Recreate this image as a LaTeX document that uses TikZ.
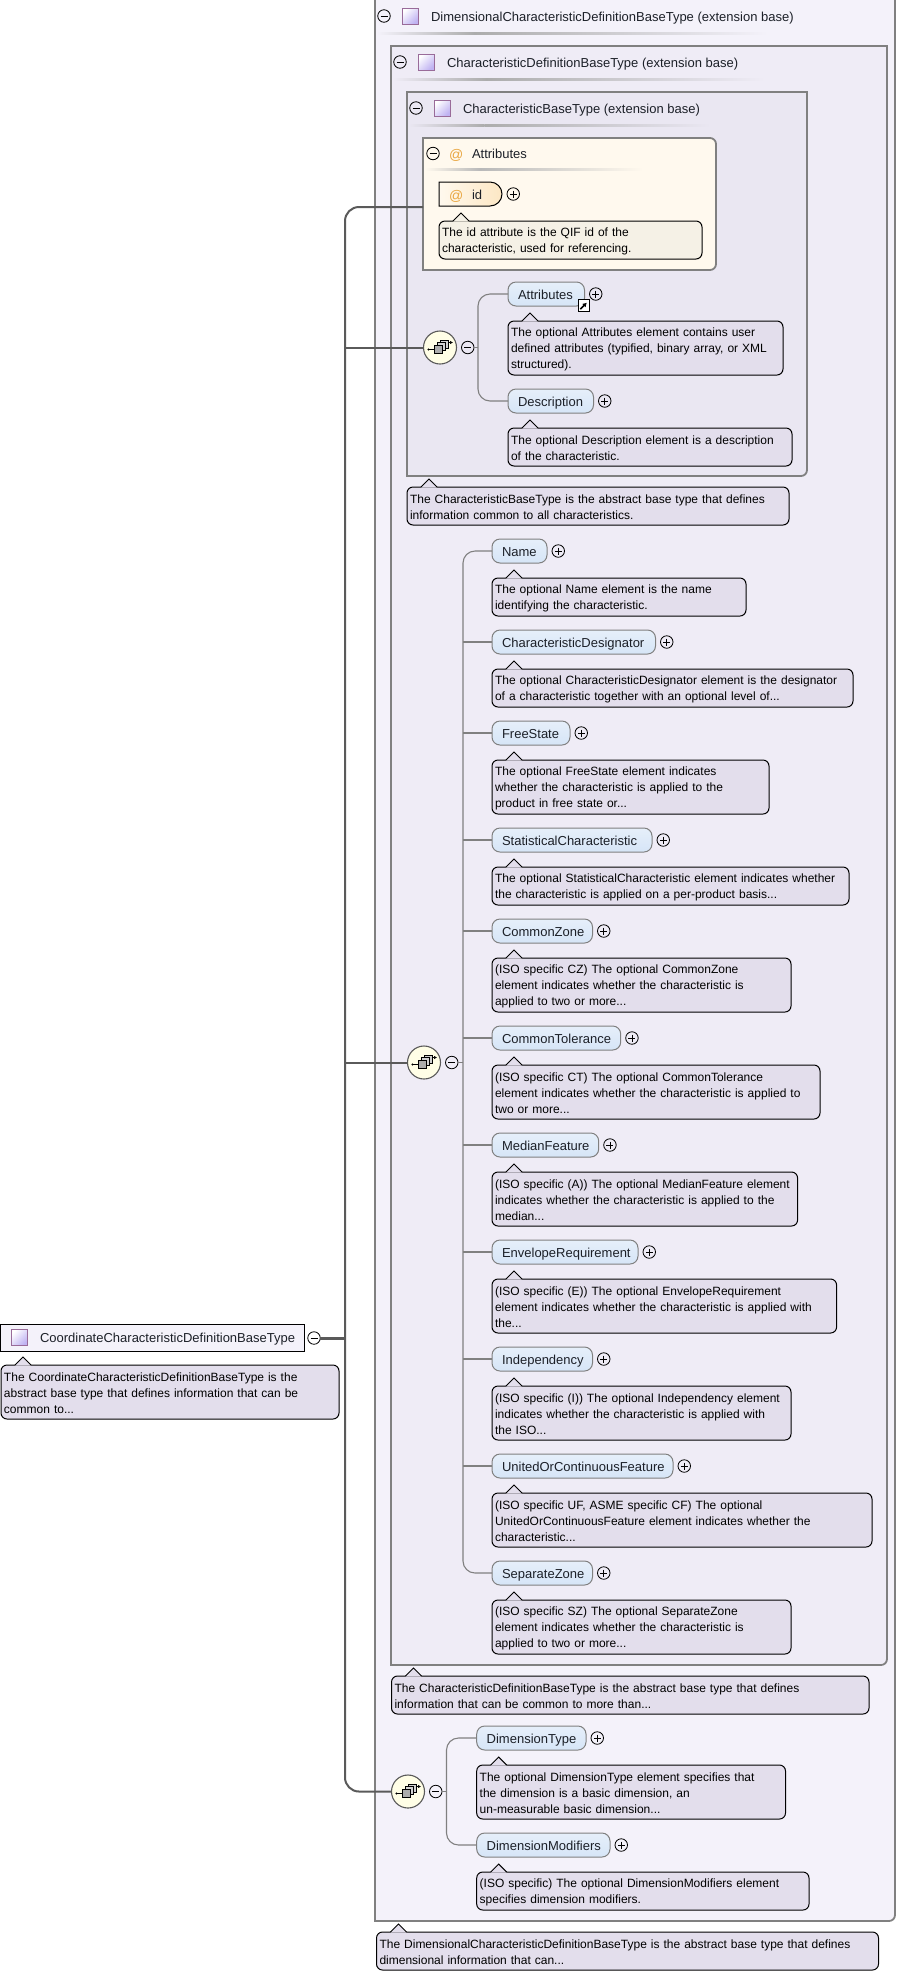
\documentclass[tikz,border=0pt]{standalone}
\usepackage{fontspec}
\setmainfont{Liberation Sans}
\usetikzlibrary{positioning,shapes.misc,arrows.meta}

\definecolor{boxA}{HTML}{F4F2FA}
\definecolor{boxB}{HTML}{EFECF6}
\definecolor{boxC}{HTML}{EAE7F2}
\definecolor{boxAttr}{HTML}{FFF9EE}
\definecolor{docfill}{HTML}{E3DEEC}
\definecolor{iddocfill}{HTML}{F5F1E6}
\definecolor{framegray}{HTML}{808080}
\definecolor{linkgray}{HTML}{5A5A5A}
\definecolor{atsign}{HTML}{E9A640}
\definecolor{inktext}{HTML}{1C2028}
\definecolor{elemtop}{HTML}{E6EFFA}
\definecolor{elembot}{HTML}{D6E5F7}
\definecolor{idright}{HTML}{FCE7C4}

\tikzset{
  base/.style={font=\fontsize{13}{16}\selectfont,text=inktext,inner sep=0pt,outer sep=0pt},
  lbl/.style={base,anchor=west,text height=12pt,text depth=2pt},
  elembox/.style={base,draw=framegray,line width=1pt,rounded corners=8pt,anchor=west,text height=12pt,text depth=2pt,
    minimum height=24pt,inner xsep=10pt,align=left,top color=elemtop,bottom color=elembot},
  docbox/.style={base,font=\fontsize{12}{16}\selectfont,draw=black,line width=1pt,rounded corners=6pt,anchor=north west,
    inner xsep=3pt,align=left,text=black,fill=docfill,execute at begin node={\rule{0pt}{11.6pt}}},
  idbox/.style={base,draw=black,line width=1pt,rounded rectangle,rounded rectangle west arc=none,
    minimum width=63pt,minimum height=24pt,anchor=west,left color=boxAttr,right color=idright},
  rootbox/.style={base,draw=black,line width=1pt,fill=boxA,minimum width=304pt,minimum height=27pt,anchor=west},
  typeicon/.style={base,draw=violet!45!gray!80,line width=.7pt,minimum size=16pt,
    left color=white,right color=violet!35!blue!30!white,shading angle=45},
  minusbtn/.style={base,circle,draw=black,line width=.8pt,minimum size=12.5pt,
    path picture={\draw[line width=.8pt] (path picture bounding box.center) ++(-3.5,0) -- ++(7,0);}},
  plusbtn/.style={minusbtn,
    path picture={\draw[line width=.8pt] (path picture bounding box.center) ++(-3.5,0) -- ++(7,0)
      (path picture bounding box.center) ++(0,-3.5) -- ++(0,7);}},
  choicebox/.style={base,circle,draw=linkgray,line width=1.1pt,fill=yellow!10!white,minimum size=33pt},
  typeframe/.style={draw=framegray,line width=1.8pt},
  branch/.style={draw=framegray,line width=1.1pt},
  mainlink/.style={draw=linkgray,line width=2pt},
  seqicon/.pic={
    \draw[line width=.8pt,fill=gray!35] (0,-7) rectangle (8,1);
    \draw[line width=.8pt,fill=gray!35] (-3,-5) rectangle (5,3);
    \draw[line width=.8pt,fill=gray!65] (-6,-2) rectangle (2,6);
    \draw[line width=1pt] (-12,2) -- (-6,2);
    \fill (-11.5,2) circle (1.2);
    \draw[line width=1pt,-{Latex[length=3pt,width=3.5pt]}] (8,-5) -- (13,-5);
  }
}

% element with its expand button
\newcommand{\elem}[5]{
  \node[elembox,text width=#4pt-20pt] (#1) at (#2,#3) {#5};
  \node[plusbtn,right=5pt of #1] (#1Plus) {};
}
% annotation box: name, x, top, width, lines, text
\newcommand{\docnote}[6]{
  \node[docbox,text width=#4pt-6pt,minimum height=#5*16pt+6pt] (#1) at (#2,#3) {#6};
  \fill[docfill] (#1.north west) ++(14,.7) -- ++(8,-8.7) -- ++(8,8.7) -- cycle;
  \draw[line width=1pt] (#1.north west) ++(14,0) -- ++(8,-8) -- ++(8,8);
}
% header of an extension block: name, x of button, y, text, end of rule, colour
\newcommand{\typehead}[6]{
  \node[minusbtn] (#1Minus) at (#2,#3) {};
  \node[typeicon,right=11.75pt of #1Minus] (#1Icon) {};
  \node[lbl,right=13pt of #1Icon] (#1Text) {#4};
  \pgfmathsetmacro{\ruleL}{#2-7}
  \pgfmathsetmacro{\ruleM}{#2-7+(#5-#2+7)*.25}
  \shade[left color=#6,right color=gray!65] (\ruleL,#3+16) rectangle (\ruleM,#3+18);
  \shade[left color=gray!65,right color=#6] (\ruleM,#3+16) rectangle (#5,#3+18);
}

\begin{document}
\begin{tikzpicture}[x=1pt,y=-1pt]
  \useasboundingbox (0,0) rectangle (897,1974);

  % nested extension blocks
  \filldraw[typeframe,fill=boxA] (375,-2) -- (895,-2) [rounded corners=6pt] -- (895,1921) [sharp corners] -- (375,1921) -- cycle;
  \filldraw[typeframe,fill=boxB] (391,46) -- (887,46) [rounded corners=6pt] -- (887,1665) [sharp corners] -- (391,1665) -- cycle;
  \filldraw[typeframe,fill=boxC] (407,92) -- (807,92) [rounded corners=6pt] -- (807,476) [sharp corners] -- (407,476) -- cycle;
  \filldraw[typeframe,fill=boxAttr] (423,138) [rounded corners=6pt] -- (716,138) -- (716,270) [sharp corners] -- (423,270) -- cycle;
  \coordinate (attrEdge) at (423,207);

  \typehead{dimType}{384}{16}{DimensionalCharacteristicDefinitionBaseType (extension base)}{768}{boxA}
  \typehead{defType}{400}{62}{CharacteristicDefinitionBaseType (extension base)}{765}{boxB}
  \typehead{baseType}{416}{108}{CharacteristicBaseType (extension base)}{710}{boxC}

  % attribute group
  \node[minusbtn] (attrMinus) at (433,153.5) {};
  \node[lbl,text=atsign,font=\fontsize{14}{16}\selectfont] (attrAt) at (449,154) {@};
  \node[lbl] (attrText) at (472,153) {Attributes};
  \shade[left color=boxAttr,right color=gray!55] (425,168) rectangle (480,170);
  \shade[left color=gray!55,right color=boxAttr] (480,168) rectangle (643,170);
  \node[idbox] (idElem) at (439,194) {};
  \node[lbl,text=atsign,font=\fontsize{14}{16}\selectfont] (idAt) at (449,195) {@};
  \node[lbl] (idText) at (472,194) {id};
  \node[plusbtn,right=5pt of idElem] (idPlus) {};
  \node[docbox,fill=iddocfill,text width=257pt,minimum height=38pt] (idDoc) at (439,221) {The id attribute is the QIF id of the\\characteristic, used for referencing.};
  \fill[iddocfill] (idDoc.north west) ++(14,.7) -- ++(8,-8.7) -- ++(8,8.7) -- cycle;
  \draw[line width=1pt] (idDoc.north west) ++(14,0) -- ++(8,-8) -- ++(8,8);

  % first group
  \elem{attrElem}{508}{294}{76.5}{Attributes}
  \node[draw=black,fill=white,line width=.9pt,minimum size=11.5pt,inner sep=0pt] (attrLink) at (584,305.5) {};
  \draw[line width=1.5pt,-{Latex[length=4pt,width=5pt]}] (attrLink.south west) ++(2.5,-2.5) -- ++(6.5,-6.5);
  \docnote{attrDoc}{508}{321}{275}{3}{The optional Attributes element contains user\\defined attributes (typified, binary array, or XML\\structured).}
  \elem{descElem}{508}{401}{85.5}{Description}
  \docnote{descDoc}{508}{428}{284}{2}{The optional Description element is a description\\of the characteristic.}
  \docnote{baseDoc}{407}{487}{382}{2}{The CharacteristicBaseType is the abstract base type that defines\\information common to all characteristics.}

  % second group
  \elem{nameElem}{492}{551}{55}{Name}
  \docnote{nameDoc}{492}{578}{254}{2}{The optional Name element is the name\\identifying the characteristic.}
  \elem{designElem}{492}{642}{163.5}{CharacteristicDesignator}
  \docnote{designDoc}{492}{669}{361}{2}{The optional CharacteristicDesignator element is the designator\\of a characteristic together with an optional level of...}
  \elem{freeElem}{492}{733}{78}{FreeState}
  \docnote{freeDoc}{492}{760}{277}{3}{The optional FreeState element indicates\\whether the characteristic is applied to the\\product in free state or...}
  \elem{statElem}{492}{840}{160}{StatisticalCharacteristic}
  \docnote{statDoc}{492}{867}{357}{2}{The optional StatisticalCharacteristic element indicates whether\\the characteristic is applied on a per-product basis...}
  \elem{zoneElem}{492}{931}{100.5}{CommonZone}
  \docnote{zoneDoc}{492}{958}{299}{3}{(ISO specific CZ) The optional CommonZone\\element indicates whether the characteristic is\\applied to two or more...}
  \elem{tolElem}{492}{1038}{128.7}{CommonTolerance}
  \docnote{tolDoc}{492}{1065}{328}{3}{(ISO specific CT) The optional CommonTolerance\\element indicates whether the characteristic is applied to\\two or more...}
  \elem{medianElem}{492}{1145}{106.7}{MedianFeature}
  \docnote{medianDoc}{492}{1172}{305.6}{3}{(ISO specific (A)) The optional MedianFeature element\\indicates whether the characteristic is applied to the\\median...}
  \elem{envElem}{492}{1252}{146}{EnvelopeRequirement}
  \docnote{envDoc}{492}{1279}{344.6}{3}{(ISO specific (E)) The optional EnvelopeRequirement\\element indicates whether the characteristic is applied with\\the...}
  \elem{indepElem}{492}{1359}{100.5}{Independency}
  \docnote{indepDoc}{492}{1386}{299}{3}{(ISO specific (I)) The optional Independency element\\indicates whether the characteristic is applied with\\the ISO...}
  \elem{unitedElem}{492}{1466}{181}{UnitedOrContinuousFeature}
  \docnote{unitedDoc}{492}{1493}{380}{3}{(ISO specific UF, ASME specific CF) The optional\\UnitedOrContinuousFeature element indicates whether the\\characteristic...}
  \elem{sepElem}{492}{1573}{100.5}{SeparateZone}
  \docnote{sepDoc}{492}{1600}{299}{3}{(ISO specific SZ) The optional SeparateZone\\element indicates whether the characteristic is\\applied to two or more...}
  \docnote{defDoc}{391.5}{1676}{477.5}{2}{The CharacteristicDefinitionBaseType is the abstract base type that defines\\information that can be common to more than...}

  % third group
  \elem{dimElem}{476.7}{1738}{109.3}{DimensionType}
  \docnote{dimDoc}{476.7}{1765}{308.8}{3}{The optional DimensionType element specifies that\\the dimension is a basic dimension, an\\un-measurable basic dimension...}
  \elem{modElem}{476.7}{1845}{133.3}{DimensionModifiers}
  \docnote{modDoc}{476.7}{1872}{332.3}{2}{(ISO specific) The optional DimensionModifiers element\\specifies dimension modifiers.}
  \docnote{dimTypeDoc}{376.5}{1932}{502}{2}{The DimensionalCharacteristicDefinitionBaseType is the abstract base type that defines\\dimensional information that can...}

  % root
  \node[rootbox] (root) at (0,1337.5) {};
  \node[typeicon] (rootIcon) at (19,1337.5) {};
  \node[lbl] (rootText) at (40,1337.5) {CoordinateCharacteristicDefinitionBaseType};
  \node[minusbtn] (rootMinus) at (314,1338) {};
  \docnote{rootDoc}{1}{1365}{338}{3}{The CoordinateCharacteristicDefinitionBaseType is the\\abstract base type that defines information that can be\\common to...}

  % compositors
  \node[choicebox] (choiceA) at (440,347.5) {};
  \pic at (choiceA) {seqicon};
  \node[minusbtn,right=5pt of choiceA] (choiceAMinus) {};
  \node[choicebox] (choiceB) at (424,1062.5) {};
  \pic at (choiceB) {seqicon};
  \node[minusbtn,right=5pt of choiceB] (choiceBMinus) {};
  \node[choicebox] (choiceC) at (408,1791.5) {};
  \pic at (choiceC) {seqicon};
  \node[minusbtn,right=5pt of choiceC] (choiceCMinus) {};

  \coordinate (trunkA) at (478,347.5);
  \coordinate (trunkB) at (463,1062.5);
  \coordinate (trunkC) at (446.5,1791.5);
  \coordinate (rootTrunk) at (345,1338);

  \draw[branch] (choiceAMinus.east) -- (trunkA) (choiceBMinus.east) -- (trunkB) (choiceCMinus.east) -- (trunkC);
  \draw[branch,rounded corners=12pt] (attrElem.west) -| (trunkA) |- (descElem.west);
  \draw[branch,rounded corners=12pt] (nameElem.west) -| (trunkB) |- (sepElem.west);
  \draw[branch,rounded corners=12pt] (dimElem.west) -| (trunkC) |- (modElem.west);
  \draw[branch] (designElem.west) -- (designElem.west -| trunkB) (freeElem.west) -- (freeElem.west -| trunkB)
    (statElem.west) -- (statElem.west -| trunkB) (zoneElem.west) -- (zoneElem.west -| trunkB)
    (tolElem.west) -- (tolElem.west -| trunkB) (medianElem.west) -- (medianElem.west -| trunkB)
    (envElem.west) -- (envElem.west -| trunkB) (indepElem.west) -- (indepElem.west -| trunkB)
    (unitedElem.west) -- (unitedElem.west -| trunkB);

  \draw[mainlink,rounded corners=14pt] (attrEdge) -| (rootTrunk) |- (choiceC.west);
  \draw[mainlink] (choiceA.west) -- (choiceA.west -| rootTrunk) (choiceB.west) -- (choiceB.west -| rootTrunk);
  \draw[mainlink,line width=3pt] (rootMinus.east) -- (rootTrunk);
\end{tikzpicture}
\end{document}
